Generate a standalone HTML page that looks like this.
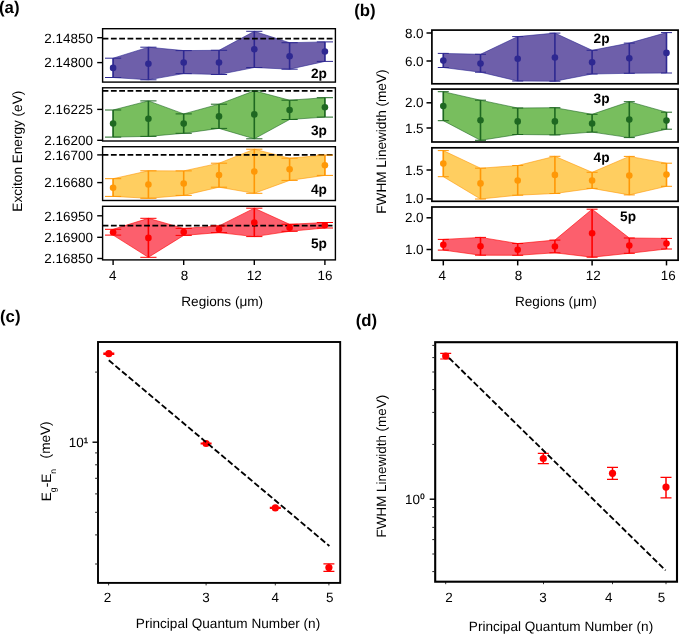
<!DOCTYPE html>
<html lang="en"><head><meta charset="utf-8"><title>Figure</title>
<style>html,body{margin:0;padding:0;background:#fff}svg{display:block}</style></head>
<body>
<svg width="685" height="634" viewBox="0 0 685 634" font-family='"Liberation Sans", sans-serif' fill="#000" text-rendering="geometricPrecision">
<rect width="685" height="634" fill="#fff"/>
<polygon points="113.1,58.2 148.4,47.2 183.7,50.6 219.0,50.3 254.3,31.3 289.6,42.7 324.9,41.9 324.9,61.4 289.6,69.2 254.3,67.5 219.0,74.5 183.7,73.6 148.4,79.8 113.1,77.5" fill="#6E5FAA" stroke="#2E2891" stroke-width="0.7" stroke-opacity="0.85" stroke-linejoin="round"/>
<path d="M113.1 58.2V77.5M148.4 47.2V79.8M183.7 50.6V73.6M219.0 50.3V74.5M254.3 31.3V67.5M289.6 42.7V69.2M324.9 41.9V61.4" stroke="#2E2891" stroke-width="1.60" fill="none"/>
<line x1="102.6" y1="38.7" x2="335.4" y2="38.7" stroke="#000" stroke-width="1.80" stroke-dasharray="5.8 2.5"/>
<path d="M105.0 58.2H121.2M105.0 77.5H121.2M140.3 47.2H156.5M140.3 79.8H156.5M175.6 50.6H191.8M175.6 73.6H191.8M210.9 50.3H227.1M210.9 74.5H227.1M246.2 31.3H262.4M246.2 67.5H262.4M281.5 42.7H297.7M281.5 69.2H297.7M316.8 41.9H333.0M316.8 61.4H333.0" stroke="#2E2891" stroke-width="1.00" fill="none"/>
<circle cx="113.1" cy="67.9" r="3.30" fill="#2E2891"/>
<circle cx="148.4" cy="63.8" r="3.30" fill="#2E2891"/>
<circle cx="183.7" cy="62.5" r="3.30" fill="#2E2891"/>
<circle cx="219.0" cy="62.5" r="3.30" fill="#2E2891"/>
<circle cx="254.3" cy="49.3" r="3.30" fill="#2E2891"/>
<circle cx="289.6" cy="56.2" r="3.30" fill="#2E2891"/>
<circle cx="324.9" cy="51.5" r="3.30" fill="#2E2891"/>
<rect x="102.6" y="28.7" width="232.8" height="53.4" fill="none" stroke="#000" stroke-width="1.40"/>
<line x1="97.2" y1="37.7" x2="102.6" y2="37.7" stroke="#000" stroke-width="1.40"/>
<text x="92.9" y="42.5" font-size="13.45" text-anchor="end" font-weight="normal">2.14850</text>
<line x1="97.2" y1="62.6" x2="102.6" y2="62.6" stroke="#000" stroke-width="1.40"/>
<text x="92.9" y="67.4" font-size="13.45" text-anchor="end" font-weight="normal">2.14800</text>
<text x="326.9" y="78.0" font-size="13.70" text-anchor="end" font-weight="bold">2p</text>
<polygon points="113.1,110.0 148.4,100.9 183.7,113.9 219.0,104.2 254.3,90.8 289.6,100.2 324.9,97.7 324.9,117.1 289.6,119.5 254.3,138.8 219.0,128.4 183.7,133.3 148.4,136.4 113.1,137.1" fill="#78BE5E" stroke="#1E6821" stroke-width="0.7" stroke-opacity="0.85" stroke-linejoin="round"/>
<path d="M113.1 110.0V137.1M148.4 100.9V136.4M183.7 113.9V133.3M219.0 104.2V128.4M254.3 90.8V138.8M289.6 100.2V119.5M324.9 97.7V117.1" stroke="#1E6821" stroke-width="1.60" fill="none"/>
<line x1="102.6" y1="90.8" x2="335.4" y2="90.8" stroke="#000" stroke-width="1.80" stroke-dasharray="5.8 2.5"/>
<path d="M105.0 110.0H121.2M105.0 137.1H121.2M140.3 100.9H156.5M140.3 136.4H156.5M175.6 113.9H191.8M175.6 133.3H191.8M210.9 104.2H227.1M210.9 128.4H227.1M246.2 90.8H262.4M246.2 138.8H262.4M281.5 100.2H297.7M281.5 119.5H297.7M316.8 97.7H333.0M316.8 117.1H333.0" stroke="#1E6821" stroke-width="1.00" fill="none"/>
<circle cx="113.1" cy="123.5" r="3.30" fill="#1E6821"/>
<circle cx="148.4" cy="118.8" r="3.30" fill="#1E6821"/>
<circle cx="183.7" cy="123.6" r="3.30" fill="#1E6821"/>
<circle cx="219.0" cy="116.4" r="3.30" fill="#1E6821"/>
<circle cx="254.3" cy="114.4" r="3.30" fill="#1E6821"/>
<circle cx="289.6" cy="110.0" r="3.30" fill="#1E6821"/>
<circle cx="324.9" cy="107.2" r="3.30" fill="#1E6821"/>
<rect x="102.6" y="87.8" width="232.8" height="53.2" fill="none" stroke="#000" stroke-width="1.40"/>
<line x1="97.2" y1="109.4" x2="102.6" y2="109.4" stroke="#000" stroke-width="1.40"/>
<text x="92.9" y="114.2" font-size="13.45" text-anchor="end" font-weight="normal">2.16225</text>
<line x1="97.2" y1="140.3" x2="102.6" y2="140.3" stroke="#000" stroke-width="1.40"/>
<text x="92.9" y="145.1" font-size="13.45" text-anchor="end" font-weight="normal">2.16200</text>
<text x="326.9" y="134.6" font-size="13.70" text-anchor="end" font-weight="bold">3p</text>
<polygon points="113.1,178.7 148.4,170.8 183.7,170.9 219.0,163.2 254.3,149.2 289.6,158.2 324.9,155.1 324.9,175.4 289.6,180.4 254.3,193.3 219.0,187.2 183.7,195.4 148.4,198.3 113.1,196.4" fill="#FFCE60" stroke="#FF9806" stroke-width="0.7" stroke-opacity="0.85" stroke-linejoin="round"/>
<path d="M113.1 178.7V196.4M148.4 170.8V198.3M183.7 170.9V195.4M219.0 163.2V187.2M254.3 149.2V193.3M289.6 158.2V180.4M324.9 155.1V175.4" stroke="#FF9806" stroke-width="1.60" fill="none"/>
<line x1="102.6" y1="154.9" x2="335.4" y2="154.9" stroke="#000" stroke-width="1.80" stroke-dasharray="5.8 2.5"/>
<path d="M105.0 178.7H121.2M105.0 196.4H121.2M140.3 170.8H156.5M140.3 198.3H156.5M175.6 170.9H191.8M175.6 195.4H191.8M210.9 163.2H227.1M210.9 187.2H227.1M246.2 149.2H262.4M246.2 193.3H262.4M281.5 158.2H297.7M281.5 180.4H297.7M316.8 155.1H333.0M316.8 175.4H333.0" stroke="#FF9806" stroke-width="1.00" fill="none"/>
<circle cx="113.1" cy="187.7" r="3.30" fill="#FF9806"/>
<circle cx="148.4" cy="184.5" r="3.30" fill="#FF9806"/>
<circle cx="183.7" cy="183.5" r="3.30" fill="#FF9806"/>
<circle cx="219.0" cy="175.1" r="3.30" fill="#FF9806"/>
<circle cx="254.3" cy="171.5" r="3.30" fill="#FF9806"/>
<circle cx="289.6" cy="169.3" r="3.30" fill="#FF9806"/>
<circle cx="324.9" cy="165.2" r="3.30" fill="#FF9806"/>
<rect x="102.6" y="146.7" width="232.8" height="53.8" fill="none" stroke="#000" stroke-width="1.40"/>
<line x1="97.2" y1="154.9" x2="102.6" y2="154.9" stroke="#000" stroke-width="1.40"/>
<text x="92.9" y="159.7" font-size="13.45" text-anchor="end" font-weight="normal">2.16700</text>
<line x1="97.2" y1="182.6" x2="102.6" y2="182.6" stroke="#000" stroke-width="1.40"/>
<text x="92.9" y="187.4" font-size="13.45" text-anchor="end" font-weight="normal">2.16680</text>
<text x="326.9" y="193.6" font-size="13.70" text-anchor="end" font-weight="bold">4p</text>
<polygon points="113.1,229.3 148.4,218.3 183.7,228.4 219.0,225.9 254.3,208.2 289.6,224.3 324.9,222.5 324.9,228.0 289.6,231.3 254.3,236.6 219.0,232.6 183.7,235.4 148.4,257.3 113.1,235.1" fill="#FC5F6D" stroke="#FF0000" stroke-width="0.7" stroke-opacity="0.85" stroke-linejoin="round"/>
<path d="M113.1 229.3V235.1M148.4 218.3V257.3M183.7 228.4V235.4M219.0 225.9V232.6M254.3 208.2V236.6M289.6 224.3V231.3M324.9 222.5V228.0" stroke="#FF0000" stroke-width="1.60" fill="none"/>
<line x1="102.6" y1="225.6" x2="335.4" y2="225.6" stroke="#000" stroke-width="1.80" stroke-dasharray="5.8 2.5"/>
<path d="M105.0 229.3H121.2M105.0 235.1H121.2M140.3 218.3H156.5M140.3 257.3H156.5M175.6 228.4H191.8M175.6 235.4H191.8M210.9 225.9H227.1M210.9 232.6H227.1M246.2 208.2H262.4M246.2 236.6H262.4M281.5 224.3H297.7M281.5 231.3H297.7M316.8 222.5H333.0M316.8 228.0H333.0" stroke="#FF0000" stroke-width="1.00" fill="none"/>
<circle cx="113.1" cy="232.3" r="3.30" fill="#FF0000"/>
<circle cx="148.4" cy="237.9" r="3.30" fill="#FF0000"/>
<circle cx="183.7" cy="232.1" r="3.30" fill="#FF0000"/>
<circle cx="219.0" cy="229.3" r="3.30" fill="#FF0000"/>
<circle cx="254.3" cy="222.5" r="3.30" fill="#FF0000"/>
<circle cx="289.6" cy="227.8" r="3.30" fill="#FF0000"/>
<circle cx="324.9" cy="225.3" r="3.30" fill="#FF0000"/>
<rect x="102.6" y="206.3" width="232.8" height="53.6" fill="none" stroke="#000" stroke-width="1.40"/>
<line x1="97.2" y1="215.8" x2="102.6" y2="215.8" stroke="#000" stroke-width="1.40"/>
<text x="92.9" y="220.6" font-size="13.45" text-anchor="end" font-weight="normal">2.16950</text>
<line x1="97.2" y1="237.3" x2="102.6" y2="237.3" stroke="#000" stroke-width="1.40"/>
<text x="92.9" y="242.1" font-size="13.45" text-anchor="end" font-weight="normal">2.16900</text>
<line x1="97.2" y1="258.5" x2="102.6" y2="258.5" stroke="#000" stroke-width="1.40"/>
<text x="92.9" y="263.3" font-size="13.45" text-anchor="end" font-weight="normal">2.16850</text>
<text x="326.9" y="248.1" font-size="13.70" text-anchor="end" font-weight="bold">5p</text>
<line x1="113.1" y1="259.9" x2="113.1" y2="265.0" stroke="#000" stroke-width="1.40"/>
<text x="112.8" y="279.8" font-size="13.45" text-anchor="middle" font-weight="normal">4</text>
<line x1="183.7" y1="259.9" x2="183.7" y2="265.0" stroke="#000" stroke-width="1.40"/>
<text x="184.5" y="279.8" font-size="13.45" text-anchor="middle" font-weight="normal">8</text>
<line x1="254.3" y1="259.9" x2="254.3" y2="265.0" stroke="#000" stroke-width="1.40"/>
<text x="254.3" y="279.8" font-size="13.45" text-anchor="middle" font-weight="normal">12</text>
<line x1="324.9" y1="259.9" x2="324.9" y2="265.0" stroke="#000" stroke-width="1.40"/>
<text x="324.9" y="279.8" font-size="13.45" text-anchor="middle" font-weight="normal">16</text>
<text x="222.2" y="305.5" font-size="13.60" text-anchor="middle" font-weight="normal">Regions (μm)</text>
<text x="21.7" y="151.2" font-size="13.60" text-anchor="middle" font-weight="normal" transform="rotate(-90 21.7 151.2)">Exciton Energy (eV)</text>
<text x="-1.0" y="12.5" font-size="16.80" text-anchor="start" font-weight="bold">(a)</text>
<polygon points="443.3,53.4 480.5,54.3 517.7,36.6 554.9,33.1 592.1,50.3 629.3,43.1 666.5,32.6 666.5,73.0 629.3,73.3 592.1,74.0 554.9,81.2 517.7,81.0 480.5,72.2 443.3,67.5" fill="#6E5FAA" stroke="#2E2891" stroke-width="0.7" stroke-opacity="0.85" stroke-linejoin="round"/>
<path d="M443.3 53.4V67.5M480.5 54.3V72.2M517.7 36.6V81.0M554.9 33.1V81.2M592.1 50.3V74.0M629.3 43.1V73.3M666.5 32.6V73.0" stroke="#2E2891" stroke-width="1.60" fill="none"/>
<path d="M437.8 53.4H448.8M437.8 67.5H448.8M475.0 54.3H486.0M475.0 72.2H486.0M512.2 36.6H523.2M512.2 81.0H523.2M549.4 33.1H560.4M549.4 81.2H560.4M586.6 50.3H597.6M586.6 74.0H597.6M623.8 43.1H634.8M623.8 73.3H634.8M661.0 32.6H672.0M661.0 73.0H672.0" stroke="#2E2891" stroke-width="1.00" fill="none"/>
<circle cx="443.3" cy="60.6" r="3.30" fill="#2E2891"/>
<circle cx="480.5" cy="63.5" r="3.30" fill="#2E2891"/>
<circle cx="517.7" cy="58.8" r="3.30" fill="#2E2891"/>
<circle cx="554.9" cy="57.5" r="3.30" fill="#2E2891"/>
<circle cx="592.1" cy="62.2" r="3.30" fill="#2E2891"/>
<circle cx="629.3" cy="58.3" r="3.30" fill="#2E2891"/>
<circle cx="666.5" cy="52.9" r="3.30" fill="#2E2891"/>
<rect x="431.9" y="30.1" width="246.2" height="53.7" fill="none" stroke="#000" stroke-width="1.70"/>
<line x1="426.5" y1="33.0" x2="431.9" y2="33.0" stroke="#000" stroke-width="1.50"/>
<text x="423.6" y="37.5" font-size="13.45" text-anchor="end" font-weight="normal">8.0</text>
<line x1="426.5" y1="61.0" x2="431.9" y2="61.0" stroke="#000" stroke-width="1.50"/>
<text x="423.6" y="65.5" font-size="13.45" text-anchor="end" font-weight="normal">6.0</text>
<text x="609.5" y="43.2" font-size="13.70" text-anchor="end" font-weight="bold">2p</text>
<polygon points="443.3,91.7 480.5,100.2 517.7,108.0 554.9,107.7 592.1,114.3 629.3,101.7 666.5,112.2 666.5,129.2 629.3,137.6 592.1,132.1 554.9,134.9 517.7,134.5 480.5,140.3 443.3,120.7" fill="#78BE5E" stroke="#1E6821" stroke-width="0.7" stroke-opacity="0.85" stroke-linejoin="round"/>
<path d="M443.3 91.7V120.7M480.5 100.2V140.3M517.7 108.0V134.5M554.9 107.7V134.9M592.1 114.3V132.1M629.3 101.7V137.6M666.5 112.2V129.2" stroke="#1E6821" stroke-width="1.60" fill="none"/>
<path d="M437.8 91.7H448.8M437.8 120.7H448.8M475.0 100.2H486.0M475.0 140.3H486.0M512.2 108.0H523.2M512.2 134.5H523.2M549.4 107.7H560.4M549.4 134.9H560.4M586.6 114.3H597.6M586.6 132.1H597.6M623.8 101.7H634.8M623.8 137.6H634.8M661.0 112.2H672.0M661.0 129.2H672.0" stroke="#1E6821" stroke-width="1.00" fill="none"/>
<circle cx="443.3" cy="106.1" r="3.30" fill="#1E6821"/>
<circle cx="480.5" cy="120.2" r="3.30" fill="#1E6821"/>
<circle cx="517.7" cy="121.4" r="3.30" fill="#1E6821"/>
<circle cx="554.9" cy="121.4" r="3.30" fill="#1E6821"/>
<circle cx="592.1" cy="123.5" r="3.30" fill="#1E6821"/>
<circle cx="629.3" cy="119.6" r="3.30" fill="#1E6821"/>
<circle cx="666.5" cy="120.6" r="3.30" fill="#1E6821"/>
<rect x="431.9" y="89.1" width="246.2" height="52.9" fill="none" stroke="#000" stroke-width="1.70"/>
<line x1="426.5" y1="102.8" x2="431.9" y2="102.8" stroke="#000" stroke-width="1.50"/>
<text x="423.6" y="107.3" font-size="13.45" text-anchor="end" font-weight="normal">2.0</text>
<line x1="426.5" y1="128.0" x2="431.9" y2="128.0" stroke="#000" stroke-width="1.50"/>
<text x="423.6" y="132.5" font-size="13.45" text-anchor="end" font-weight="normal">1.5</text>
<text x="609.5" y="103.2" font-size="13.70" text-anchor="end" font-weight="bold">3p</text>
<polygon points="443.3,150.6 480.5,168.2 517.7,165.5 554.9,156.3 592.1,172.3 629.3,156.4 666.5,163.2 666.5,186.3 629.3,194.9 592.1,188.4 554.9,193.5 517.7,195.2 480.5,199.0 443.3,176.7" fill="#FFCE60" stroke="#FF9806" stroke-width="0.7" stroke-opacity="0.85" stroke-linejoin="round"/>
<path d="M443.3 150.6V176.7M480.5 168.2V199.0M517.7 165.5V195.2M554.9 156.3V193.5M592.1 172.3V188.4M629.3 156.4V194.9M666.5 163.2V186.3" stroke="#FF9806" stroke-width="1.60" fill="none"/>
<path d="M437.8 150.6H448.8M437.8 176.7H448.8M475.0 168.2H486.0M475.0 199.0H486.0M512.2 165.5H523.2M512.2 195.2H523.2M549.4 156.3H560.4M549.4 193.5H560.4M586.6 172.3H597.6M586.6 188.4H597.6M623.8 156.4H634.8M623.8 194.9H634.8M661.0 163.2H672.0M661.0 186.3H672.0" stroke="#FF9806" stroke-width="1.00" fill="none"/>
<circle cx="443.3" cy="163.6" r="3.30" fill="#FF9806"/>
<circle cx="480.5" cy="183.4" r="3.30" fill="#FF9806"/>
<circle cx="517.7" cy="180.5" r="3.30" fill="#FF9806"/>
<circle cx="554.9" cy="174.9" r="3.30" fill="#FF9806"/>
<circle cx="592.1" cy="180.5" r="3.30" fill="#FF9806"/>
<circle cx="629.3" cy="175.6" r="3.30" fill="#FF9806"/>
<circle cx="666.5" cy="174.6" r="3.30" fill="#FF9806"/>
<rect x="431.9" y="147.8" width="246.2" height="53.5" fill="none" stroke="#000" stroke-width="1.70"/>
<line x1="426.5" y1="170.0" x2="431.9" y2="170.0" stroke="#000" stroke-width="1.50"/>
<text x="423.6" y="174.5" font-size="13.45" text-anchor="end" font-weight="normal">1.5</text>
<line x1="426.5" y1="198.9" x2="431.9" y2="198.9" stroke="#000" stroke-width="1.50"/>
<text x="423.6" y="203.4" font-size="13.45" text-anchor="end" font-weight="normal">1.0</text>
<text x="609.5" y="161.7" font-size="13.70" text-anchor="end" font-weight="bold">4p</text>
<polygon points="443.3,239.4 480.5,237.4 517.7,243.5 554.9,240.1 592.1,209.2 629.3,238.0 666.5,238.4 666.5,249.0 629.3,253.3 592.1,257.2 554.9,252.8 517.7,255.3 480.5,255.2 443.3,250.1" fill="#FC5F6D" stroke="#FF0000" stroke-width="0.7" stroke-opacity="0.85" stroke-linejoin="round"/>
<path d="M443.3 239.4V250.1M480.5 237.4V255.2M517.7 243.5V255.3M554.9 240.1V252.8M592.1 209.2V257.2M629.3 238.0V253.3M666.5 238.4V249.0" stroke="#FF0000" stroke-width="1.60" fill="none"/>
<path d="M437.8 239.4H448.8M437.8 250.1H448.8M475.0 237.4H486.0M475.0 255.2H486.0M512.2 243.5H523.2M512.2 255.3H523.2M549.4 240.1H560.4M549.4 252.8H560.4M586.6 209.2H597.6M586.6 257.2H597.6M623.8 238.0H634.8M623.8 253.3H634.8M661.0 238.4H672.0M661.0 249.0H672.0" stroke="#FF0000" stroke-width="1.00" fill="none"/>
<circle cx="443.3" cy="244.8" r="3.30" fill="#FF0000"/>
<circle cx="480.5" cy="246.2" r="3.30" fill="#FF0000"/>
<circle cx="517.7" cy="249.7" r="3.30" fill="#FF0000"/>
<circle cx="554.9" cy="246.5" r="3.30" fill="#FF0000"/>
<circle cx="592.1" cy="233.2" r="3.30" fill="#FF0000"/>
<circle cx="629.3" cy="245.6" r="3.30" fill="#FF0000"/>
<circle cx="666.5" cy="243.5" r="3.30" fill="#FF0000"/>
<rect x="431.9" y="207.0" width="246.2" height="53.2" fill="none" stroke="#000" stroke-width="1.70"/>
<line x1="426.5" y1="217.8" x2="431.9" y2="217.8" stroke="#000" stroke-width="1.50"/>
<text x="423.6" y="222.3" font-size="13.45" text-anchor="end" font-weight="normal">2.0</text>
<line x1="426.5" y1="249.5" x2="431.9" y2="249.5" stroke="#000" stroke-width="1.50"/>
<text x="423.6" y="254.0" font-size="13.45" text-anchor="end" font-weight="normal">1.0</text>
<text x="636.0" y="221.1" font-size="13.70" text-anchor="end" font-weight="bold">5p</text>
<line x1="443.3" y1="260.2" x2="443.3" y2="265.4" stroke="#000" stroke-width="1.50"/>
<text x="442.3" y="279.9" font-size="13.45" text-anchor="middle" font-weight="normal">4</text>
<line x1="517.7" y1="260.2" x2="517.7" y2="265.4" stroke="#000" stroke-width="1.50"/>
<text x="518.4" y="279.9" font-size="13.45" text-anchor="middle" font-weight="normal">8</text>
<line x1="592.1" y1="260.2" x2="592.1" y2="265.4" stroke="#000" stroke-width="1.50"/>
<text x="593.2" y="279.9" font-size="13.45" text-anchor="middle" font-weight="normal">12</text>
<line x1="666.5" y1="260.2" x2="666.5" y2="265.4" stroke="#000" stroke-width="1.50"/>
<text x="668.2" y="279.9" font-size="13.45" text-anchor="middle" font-weight="normal">16</text>
<text x="555.9" y="305.8" font-size="13.60" text-anchor="middle" font-weight="normal">Regions (μm)</text>
<text x="385.8" y="141.6" font-size="13.60" text-anchor="middle" font-weight="normal" transform="rotate(-90 385.8 141.6)">FWHM Linewidth (meV)</text>
<text x="354.2" y="15.7" font-size="16.80" text-anchor="start" font-weight="bold">(b)</text>
<path d="M108.8 353.1V354.3" stroke="#FF0000" stroke-width="1.50" fill="none"/>
<path d="M103.3 353.1H114.3M103.3 354.3H114.3" stroke="#FF0000" stroke-width="1.20" fill="none"/>
<circle cx="108.8" cy="353.7" r="3.60" fill="#FF0000"/>
<path d="M206.1 443.0V444.0" stroke="#FF0000" stroke-width="1.50" fill="none"/>
<path d="M200.6 443.0H211.6M200.6 444.0H211.6" stroke="#FF0000" stroke-width="1.20" fill="none"/>
<circle cx="206.1" cy="443.5" r="3.60" fill="#FF0000"/>
<path d="M275.3 507.3V508.5" stroke="#FF0000" stroke-width="1.50" fill="none"/>
<path d="M269.8 507.3H280.8M269.8 508.5H280.8" stroke="#FF0000" stroke-width="1.20" fill="none"/>
<circle cx="275.3" cy="507.9" r="3.60" fill="#FF0000"/>
<path d="M328.9 563.8V571.4" stroke="#FF0000" stroke-width="1.50" fill="none"/>
<path d="M323.4 563.8H334.4M323.4 571.4H334.4" stroke="#FF0000" stroke-width="1.20" fill="none"/>
<circle cx="328.9" cy="567.6" r="3.60" fill="#FF0000"/>
<line x1="108.8" y1="360.3" x2="329.4" y2="546.0" stroke="#000" stroke-width="1.85" stroke-dasharray="6.0 2.65"/>
<rect x="98.0" y="342.0" width="242.2" height="240.9" fill="none" stroke="#000" stroke-width="1.90"/>
<line x1="92.5" y1="442.2" x2="98.0" y2="442.2" stroke="#000" stroke-width="1.40"/>
<line x1="95.1" y1="372.1" x2="98.0" y2="372.1" stroke="#222" stroke-width="1.00"/>
<line x1="95.1" y1="452.9" x2="98.0" y2="452.9" stroke="#222" stroke-width="1.00"/>
<line x1="95.1" y1="464.8" x2="98.0" y2="464.8" stroke="#222" stroke-width="1.00"/>
<line x1="95.1" y1="478.3" x2="98.0" y2="478.3" stroke="#222" stroke-width="1.00"/>
<line x1="95.1" y1="493.9" x2="98.0" y2="493.9" stroke="#222" stroke-width="1.00"/>
<line x1="95.1" y1="512.3" x2="98.0" y2="512.3" stroke="#222" stroke-width="1.00"/>
<line x1="95.1" y1="534.9" x2="98.0" y2="534.9" stroke="#222" stroke-width="1.00"/>
<line x1="95.1" y1="564.0" x2="98.0" y2="564.0" stroke="#222" stroke-width="1.00"/>
<line x1="108.6" y1="582.9" x2="108.6" y2="585.4" stroke="#000" stroke-width="0.80"/>
<line x1="206.1" y1="582.9" x2="206.1" y2="585.4" stroke="#000" stroke-width="0.80"/>
<line x1="275.3" y1="582.9" x2="275.3" y2="585.4" stroke="#000" stroke-width="0.80"/>
<line x1="328.9" y1="582.9" x2="328.9" y2="585.4" stroke="#000" stroke-width="0.80"/>
<text x="68.7" y="446.9" font-size="13.45">10<tspan font-size="7.8" dy="-4.4" dx="0.2" stroke="#000" stroke-width="0.3">1</tspan></text>
<text x="107.6" y="601.7" font-size="13.45" text-anchor="middle" font-weight="normal">2</text>
<text x="206.1" y="601.7" font-size="13.45" text-anchor="middle" font-weight="normal">3</text>
<text x="275.2" y="601.7" font-size="13.45" text-anchor="middle" font-weight="normal">4</text>
<text x="329.8" y="601.7" font-size="13.45" text-anchor="middle" font-weight="normal">5</text>
<text x="228.0" y="628.1" font-size="13.60" text-anchor="middle" font-weight="normal">Principal Quantum Number (n)</text>
<text x="50.9" y="501.2" font-size="13.60" transform="rotate(-90 50.9 501.2)">E<tspan font-size="8.6" dy="5.4">g</tspan><tspan dy="-5.4">-E</tspan><tspan font-size="8.6" dy="5.4">n</tspan><tspan dy="-5.8" dx="6.8"> (meV)</tspan></text>
<text x="0.0" y="322.1" font-size="16.80" text-anchor="start" font-weight="bold">(c)</text>
<path d="M445.7 353.3V359.0" stroke="#FF0000" stroke-width="1.50" fill="none"/>
<path d="M440.2 353.3H451.2M440.2 359.0H451.2" stroke="#FF0000" stroke-width="1.20" fill="none"/>
<circle cx="445.7" cy="356.0" r="3.60" fill="#FF0000"/>
<path d="M543.3 453.3V463.6" stroke="#FF0000" stroke-width="1.50" fill="none"/>
<path d="M537.8 453.3H548.8M537.8 463.6H548.8" stroke="#FF0000" stroke-width="1.20" fill="none"/>
<circle cx="543.3" cy="458.5" r="3.60" fill="#FF0000"/>
<path d="M612.5 467.4V479.3" stroke="#FF0000" stroke-width="1.50" fill="none"/>
<path d="M607.0 467.4H618.0M607.0 479.3H618.0" stroke="#FF0000" stroke-width="1.20" fill="none"/>
<circle cx="612.5" cy="473.3" r="3.60" fill="#FF0000"/>
<path d="M666.0 477.4V497.9" stroke="#FF0000" stroke-width="1.50" fill="none"/>
<path d="M660.5 477.4H671.5M660.5 497.9H671.5" stroke="#FF0000" stroke-width="1.20" fill="none"/>
<circle cx="666.0" cy="487.1" r="3.60" fill="#FF0000"/>
<line x1="449.0" y1="357.9" x2="665.6" y2="570.4" stroke="#000" stroke-width="1.85" stroke-dasharray="6.0 2.65"/>
<rect x="435.2" y="342.2" width="241.8" height="239.5" fill="none" stroke="#000" stroke-width="2.10"/>
<line x1="429.7" y1="499.2" x2="435.2" y2="499.2" stroke="#000" stroke-width="1.40"/>
<line x1="432.3" y1="345.4" x2="435.2" y2="345.4" stroke="#222" stroke-width="1.00"/>
<line x1="432.3" y1="357.6" x2="435.2" y2="357.6" stroke="#222" stroke-width="1.00"/>
<line x1="432.3" y1="372.0" x2="435.2" y2="372.0" stroke="#222" stroke-width="1.00"/>
<line x1="432.3" y1="389.6" x2="435.2" y2="389.6" stroke="#222" stroke-width="1.00"/>
<line x1="432.3" y1="412.4" x2="435.2" y2="412.4" stroke="#222" stroke-width="1.00"/>
<line x1="432.3" y1="444.4" x2="435.2" y2="444.4" stroke="#222" stroke-width="1.00"/>
<line x1="432.3" y1="507.5" x2="435.2" y2="507.5" stroke="#222" stroke-width="1.00"/>
<line x1="432.3" y1="516.8" x2="435.2" y2="516.8" stroke="#222" stroke-width="1.00"/>
<line x1="432.3" y1="527.4" x2="435.2" y2="527.4" stroke="#222" stroke-width="1.00"/>
<line x1="432.3" y1="539.6" x2="435.2" y2="539.6" stroke="#222" stroke-width="1.00"/>
<line x1="432.3" y1="554.0" x2="435.2" y2="554.0" stroke="#222" stroke-width="1.00"/>
<line x1="432.3" y1="571.6" x2="435.2" y2="571.6" stroke="#222" stroke-width="1.00"/>
<line x1="445.7" y1="581.7" x2="445.7" y2="584.2" stroke="#000" stroke-width="0.80"/>
<line x1="543.5" y1="581.7" x2="543.5" y2="584.2" stroke="#000" stroke-width="0.80"/>
<line x1="612.5" y1="581.7" x2="612.5" y2="584.2" stroke="#000" stroke-width="0.80"/>
<line x1="666.0" y1="581.7" x2="666.0" y2="584.2" stroke="#000" stroke-width="0.80"/>
<text x="405.0" y="503.8" font-size="13.45">10<tspan font-size="7.8" dy="-4.4" dx="0.2" stroke="#000" stroke-width="0.3">0</tspan></text>
<text x="449.0" y="601.7" font-size="13.45" text-anchor="middle" font-weight="normal">2</text>
<text x="543.1" y="601.7" font-size="13.45" text-anchor="middle" font-weight="normal">3</text>
<text x="608.7" y="601.7" font-size="13.45" text-anchor="middle" font-weight="normal">4</text>
<text x="661.6" y="601.7" font-size="13.45" text-anchor="middle" font-weight="normal">5</text>
<text x="561.0" y="630.6" font-size="13.60" text-anchor="middle" font-weight="normal">Principal Quantum Number (n)</text>
<text x="386.1" y="466.1" font-size="13.45" text-anchor="middle" font-weight="normal" transform="rotate(-90 386.1 466.1)">FWHM Linewidth (meV)</text>
<text x="355.7" y="325.5" font-size="16.80" text-anchor="start" font-weight="bold">(d)</text>
</svg>
</body></html>
